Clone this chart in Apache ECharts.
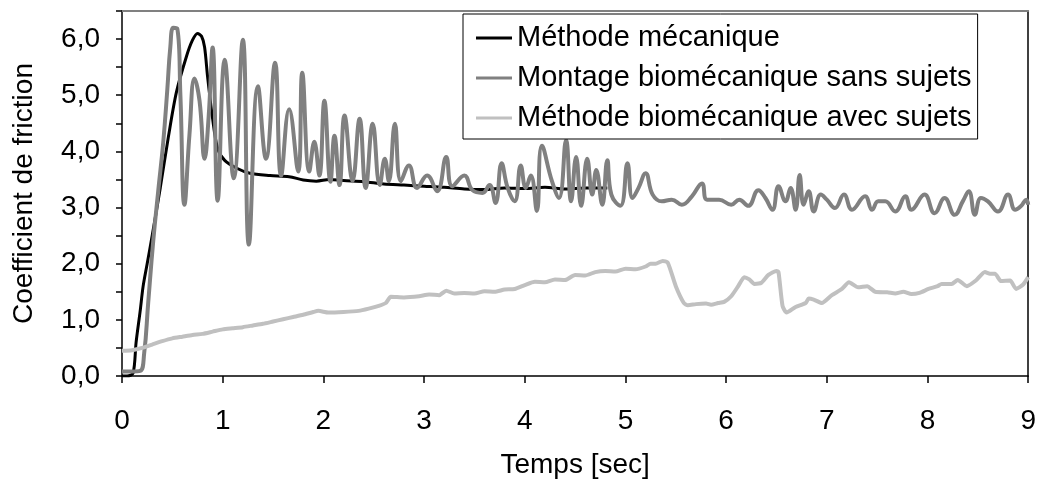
<!DOCTYPE html>
<html>
<head>
<meta charset="utf-8">
<script src="https://cdn.jsdelivr.net/npm/echarts@6/dist/echarts.min.js"></script>
<style>
html,body{margin:0;padding:0;background:#fff;}
#c{width:1039px;height:484px;}
</style>
</head>
<body>
<div id="c"></div>
<script>
const seriesNames = ['Méthode mécanique', 'Montage biomécanique sans sujets', 'Méthode biomécanique avec sujets'];
const xTitle = 'Temps [sec]';
const yTitle = 'Coefficient de friction';

const mecanique = [[0,0],[0.05,0],[0.11,0.05],[0.14,0.6],[0.18,1.15],[0.21,1.6],[0.25,2.0],[0.3,2.5],[0.38,3.35],[0.46,4.25],[0.54,5.05],[0.64,5.69],[0.7,5.98],[0.75,6.1],[0.79,6.05],[0.82,5.86],[0.85,5.33],[0.9,4.58],[0.95,4.05],[1.02,3.84],[1.14,3.7],[1.27,3.61],[1.47,3.57],[1.66,3.55],[1.8,3.49],[1.93,3.47],[2.06,3.5],[2.2,3.48],[2.4,3.46],[2.6,3.42],[2.8,3.4],[3.0,3.38],[3.2,3.36],[3.4,3.33],[3.6,3.32],[3.8,3.35],[4.0,3.34],[4.2,3.36],[4.4,3.33],[4.6,3.35],[4.82,3.35]];

const sansSujets = [[0,0.08],[0.1,0.08],[0.18,0.09],[0.22,0.4],[0.26,1.3],[0.31,2.4],[0.36,3.3],[0.41,4.17],[0.45,5.1],[0.48,5.86],[0.51,6.2],[0.55,6.18],[0.58,5.0],[0.62,3.05],[0.67,4.3],[0.72,5.3],[0.77,4.9],[0.82,3.87],[0.86,4.6],[0.9,5.85],[0.95,3.12],[1.02,5.63],[1.11,3.52],[1.2,5.99],[1.26,2.34],[1.35,5.16],[1.43,3.87],[1.52,5.58],[1.58,3.57],[1.66,4.75],[1.75,3.64],[1.79,5.4],[1.86,3.64],[1.91,4.17],[1.96,3.57],[2.01,4.9],[2.07,3.46],[2.11,4.28],[2.16,3.4],[2.21,4.64],[2.29,3.47],[2.36,4.58],[2.42,3.35],[2.49,4.49],[2.56,3.4],[2.61,3.87],[2.65,3.47],[2.71,4.49],[2.77,3.47],[2.85,3.75],[2.93,3.35],[3.03,3.57],[3.13,3.29],[3.22,3.9],[3.28,3.38],[3.4,3.57],[3.48,3.31],[3.58,3.26],[3.65,3.4],[3.71,3.08],[3.77,3.79],[3.83,3.35],[3.9,3.11],[3.96,3.75],[4.01,3.35],[4.06,3.57],[4.12,2.94],[4.17,4.1],[4.27,3.47],[4.34,3.17],[4.41,4.2],[4.46,3.11],[4.51,3.9],[4.56,3.03],[4.62,3.87],[4.67,3.23],[4.71,3.67],[4.77,3.05],[4.82,3.84],[4.86,3.23],[4.95,3.03],[5.02,3.79],[5.07,3.17],[5.13,3.35],[5.2,3.61],[5.27,3.23],[5.36,3.11],[5.46,3.14],[5.56,3.05],[5.66,3.2],[5.76,3.43],[5.81,3.14],[5.93,3.14],[6.05,3.05],[6.13,3.14],[6.22,3.03],[6.32,3.31],[6.39,3.17],[6.46,2.96],[6.52,3.38],[6.59,3.11],[6.64,3.35],[6.69,2.96],[6.73,3.58],[6.77,3.05],[6.82,3.29],[6.87,2.93],[6.94,3.23],[7.0,3.14],[7.08,2.99],[7.17,3.23],[7.25,2.96],[7.38,3.2],[7.45,2.96],[7.51,3.11],[7.58,3.11],[7.68,2.93],[7.78,3.2],[7.84,2.96],[7.97,3.23],[8.07,2.9],[8.17,3.17],[8.27,2.87],[8.35,3.11],[8.41,3.29],[8.47,2.87],[8.53,3.17],[8.6,3.11],[8.7,2.93],[8.8,3.23],[8.87,2.96],[8.93,3.03],[8.98,3.14],[9,3.05]];

const avecSujets = [[0,0.45],[0.1,0.46],[0.2,0.5],[0.3,0.56],[0.4,0.62],[0.5,0.67],[0.6,0.7],[0.7,0.73],[0.8,0.75],[0.9,0.79],[1.0,0.83],[1.1,0.85],[1.2,0.87],[1.3,0.9],[1.4,0.93],[1.5,0.97],[1.6,1.01],[1.7,1.05],[1.8,1.09],[1.9,1.14],[1.95,1.16],[2.05,1.13],[2.2,1.14],[2.35,1.16],[2.45,1.2],[2.55,1.25],[2.62,1.3],[2.67,1.41],[2.8,1.4],[2.95,1.42],[3.05,1.45],[3.15,1.44],[3.22,1.52],[3.3,1.47],[3.4,1.48],[3.5,1.47],[3.6,1.51],[3.7,1.5],[3.8,1.54],[3.9,1.55],[4.0,1.62],[4.1,1.68],[4.2,1.67],[4.3,1.72],[4.4,1.71],[4.5,1.8],[4.6,1.79],[4.7,1.85],[4.8,1.87],[4.9,1.86],[5.0,1.91],[5.1,1.9],[5.2,1.95],[5.25,2.0],[5.3,2.0],[5.37,2.05],[5.42,2.02],[5.5,1.6],[5.58,1.3],[5.62,1.26],[5.7,1.28],[5.8,1.29],[5.85,1.27],[5.92,1.3],[5.98,1.32],[6.05,1.42],[6.12,1.6],[6.18,1.76],[6.23,1.72],[6.28,1.64],[6.35,1.66],[6.42,1.8],[6.5,1.87],[6.52,1.85],[6.56,1.25],[6.6,1.13],[6.69,1.23],[6.79,1.3],[6.82,1.38],[6.87,1.36],[6.95,1.3],[7.05,1.44],[7.15,1.55],[7.22,1.67],[7.31,1.58],[7.4,1.6],[7.48,1.5],[7.6,1.49],[7.68,1.47],[7.76,1.5],[7.84,1.46],[7.92,1.48],[8.01,1.55],[8.1,1.6],[8.14,1.64],[8.24,1.64],[8.3,1.71],[8.39,1.6],[8.48,1.7],[8.57,1.85],[8.62,1.82],[8.67,1.82],[8.73,1.69],[8.82,1.7],[8.88,1.55],[8.95,1.63],[9,1.76]];

const FONT = 'Liberation Sans, Arial, sans-serif';
const chart = echarts.init(document.getElementById('c'), null, {renderer: 'canvas'});
chart.setOption({
  animation: false,
  backgroundColor: '#fff',
  textStyle: {fontFamily: FONT},
  grid: {left: 122, right: 9, top: 11, bottom: 104, containLabel: false},
  legend: {
    orient: 'vertical', left: 463, top: 14,
    backgroundColor: '#fff',
    borderColor: '#000', borderWidth: 1, borderRadius: 0,
    padding: [9, 6, 6, 13],
    itemGap: 10, itemWidth: 36, itemHeight: 3,
    icon: 'rect',
    textStyle: {fontSize: 29, lineHeight: 30, color: '#000', fontFamily: FONT},
    data: seriesNames
  },
  xAxis: [{
    type: 'value', min: 0, max: 9, interval: 1,
    name: xTitle, nameLocation: 'middle', nameGap: 75,
    nameTextStyle: {fontSize: 28, color: '#000', fontFamily: FONT},
    axisLine: {show: true, onZero: false, lineStyle: {color: '#000', width: 1.5}},
    axisTick: {show: true, inside: false, length: 7, lineStyle: {color: '#000', width: 1.5}},
    axisLabel: {fontSize: 28, color: '#000', margin: 31, fontFamily: FONT},
    splitLine: {show: false}
  }, {
    type: 'value', min: 0, max: 9, position: 'top',
    axisLine: {show: true, onZero: false, lineStyle: {color: '#808080', width: 2}},
    axisTick: {show: false}, axisLabel: {show: false}, splitLine: {show: false}
  }],
  yAxis: [{
    type: 'value', min: 0, max: 6.5, interval: 0.5,
    name: yTitle, nameLocation: 'middle', nameGap: 84, nameRotate: 90,
    nameTextStyle: {fontSize: 28, color: '#000', fontFamily: FONT},
    axisLine: {show: true, onZero: false, lineStyle: {color: '#000', width: 1.5}},
    axisTick: {show: true, inside: false, length: 6, lineStyle: {color: '#000', width: 1.5}},
    axisLabel: {
      fontSize: 28, color: '#000', margin: 22, fontFamily: FONT,
      formatter: function (v) { return (Math.abs(v - Math.round(v)) < 1e-6 && v <= 6) ? v.toFixed(1).replace('.', ',') : ''; }
    },
    splitLine: {show: false}
  }, {
    type: 'value', min: 0, max: 6.5, position: 'right',
    axisLine: {show: true, onZero: false, lineStyle: {color: '#000', width: 1.5}},
    axisTick: {show: false}, axisLabel: {show: false}, splitLine: {show: false}
  }],
  series: [{
    name: seriesNames[0], type: 'line', data: mecanique,
    xAxisIndex: 0, yAxisIndex: 0,
    showSymbol: false, symbol: 'none', smooth: 0.3,
    lineStyle: {color: '#000', width: 3}, itemStyle: {color: '#000'}
  }, {
    name: seriesNames[1], type: 'line', data: sansSujets,
    xAxisIndex: 0, yAxisIndex: 0,
    showSymbol: false, symbol: 'none', smooth: 0.45,
    lineStyle: {color: '#808080', width: 4}, itemStyle: {color: '#808080'}
  }, {
    name: seriesNames[2], type: 'line', data: avecSujets,
    xAxisIndex: 0, yAxisIndex: 0,
    showSymbol: false, symbol: 'none', smooth: 0.2,
    lineStyle: {color: '#c0c0c0', width: 4}, itemStyle: {color: '#c0c0c0'}
  }]
});
</script>
</body>
</html>
